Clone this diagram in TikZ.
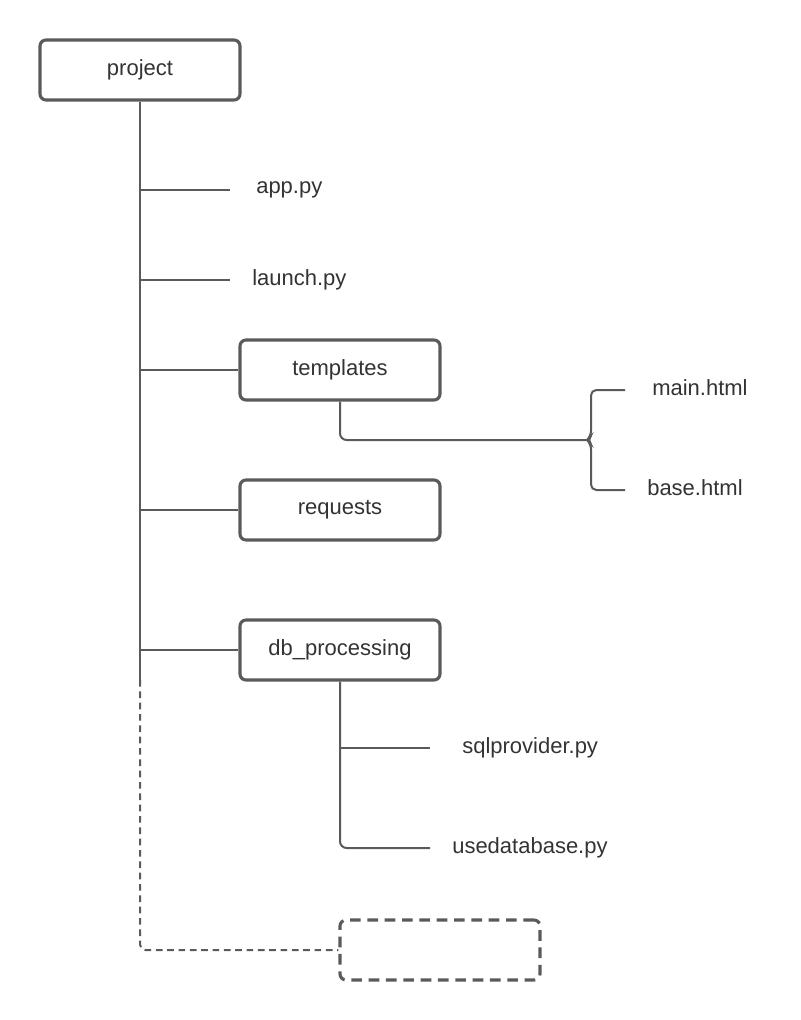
\documentclass[tikz,border=0pt]{standalone}
\usepackage{fontspec}
\setmainfont{Liberation Sans}
\begin{document}
\begin{tikzpicture}[x=0.75pt,y=-0.75pt,
  every node/.style={font=\fontsize{16.5pt}{19pt}\selectfont, text=txt},
  box/.style={draw=ln, line width=2.3pt, rounded corners=4.5pt, minimum width=150pt, minimum height=45pt, inner sep=0pt, fill=white},
  dbox/.style={box, dash pattern=on 8pt off 5pt},
  lbl/.style={inner sep=0pt, anchor=west},
  conn/.style={draw=ln, line width=1.5pt},
  dconn/.style={draw=ln, line width=1.5pt, dash pattern=on 5pt off 3.5pt}]
\definecolor{ln}{HTML}{5A5A5A}
\definecolor{txt}{HTML}{333333}
\useasboundingbox (0,0) rectangle (800,1020);
\node[box] (project) at (140,70) {project};
\node[box] (templates) at (340,370) {templates};
\node[box] (requests) at (340,510) {requests};
\node[box] (db) at (340,650) {db\_processing};
\node[dbox] (empty) at (440,950) {};
\node[lbl] (app) at (256,190) {app.py};
\node[lbl] (launch) at (252,280) {launch.py};
\node[lbl] (main) at (652,388) {main.html};
\node[lbl] (base) at (647,488) {base.html};
\node[lbl] (sql) at (462,748) {sqlprovider.py};
\node[lbl] (use) at (452,848) {usedatabase.py};
\coordinate (tend) at (140,680);
\coordinate (bt) at (625,390);
\coordinate (bb) at (625,490);
\coordinate (bp) at (587,440);
% trunk
\draw[conn] (project.south) -- (tend);
\draw[dconn, rounded corners=4pt] (tend) |- (empty.west);
\draw[conn] (project.south |- app) -- ([xshift=-19.5pt]app.west);
\draw[conn] (project.south |- launch) -- ([xshift=-16.5pt]launch.west);
\draw[conn] (project.south |- templates) -- (templates.west);
\draw[conn] (project.south |- requests) -- (requests.west);
\draw[conn] (project.south |- db) -- (db.west);
% templates
\draw[conn, rounded corners=5pt] (templates.south) |- (bp);
\draw[conn, rounded corners=4pt] (bt) -| (591,436) -- (bp) -- (591,444) |- (bb);
% db_processing
\draw[conn, rounded corners=5pt] (db.south) |- ([xshift=-16.5pt]use.west);
\draw[conn] (db.south |- sql) -- ([xshift=-24pt]sql.west);
\end{tikzpicture}
\end{document}
